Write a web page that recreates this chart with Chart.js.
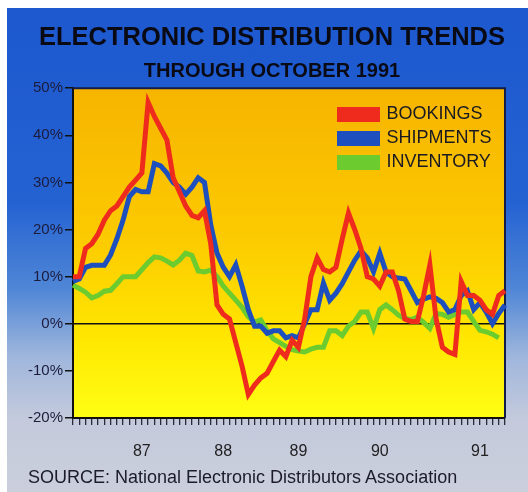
<!DOCTYPE html>
<html><head><meta charset="utf-8">
<script src="https://cdn.jsdelivr.net/npm/chart.js@4"></script>
<style>
html,body{margin:0;padding:0;background:#fff;}
#wrap{position:relative;width:528px;height:492px;background:#fff;overflow:hidden;}
#panel{position:absolute;left:7px;top:8px;right:0;bottom:0;background:linear-gradient(to bottom,#1d58cf 0%,#2462d2 40%,#4f86d6 58%,#9fb6dc 72%,#c4cadc 85%,#cbcfdc 100%);}
#c{position:absolute;left:0;top:0;}
#source{position:absolute;left:28px;top:467px;font:18px/20px "Liberation Sans",Arial,sans-serif;color:#1b1b2b;white-space:nowrap;}
</style></head>
<body><div id="wrap"><div id="panel"></div><canvas id="c" width="528" height="492"></canvas><div id="source">SOURCE: National Electronic Distributors Association</div></div>
<script>
const months = [
 'Jan 86','Feb 86','Mar 86','Apr 86','May 86','Jun 86','Jul 86','Aug 86','Sep 86','Oct 86','Nov 86','Dec 86',
 'Jan 87','Feb 87','Mar 87','Apr 87','May 87','Jun 87','Jul 87','Aug 87','Sep 87','Oct 87','Nov 87','Dec 87',
 'Jan 88','Feb 88','Mar 88','Apr 88','May 88','Jun 88','Jul 88','Aug 88','Sep 88','Oct 88','Nov 88','Dec 88',
 'Jan 89','Feb 89','Mar 89','Apr 89','May 89','Jun 89','Jul 89','Aug 89','Sep 89','Oct 89','Nov 89','Dec 89',
 'Jan 90','Feb 90','Mar 90','Apr 90','May 90','Jun 90','Jul 90','Aug 90','Sep 90','Oct 90','Nov 90','Dec 90',
 'Jan 91','Feb 91','Mar 91','Apr 91','May 91','Jun 91','Jul 91','Aug 91','Sep 91','Oct 91'];

const bookings = [10,10,16,17,19,22,24,25,27,29, 30.5,32,47,44,41.5,39,31,28,25,23,
 22.5,24,17,4,2,1,-4,-9,-15,-13, -11.5,-10.5,-8,-5.6,-7,-3.5,-5,1,10,14,
 11.5,11,12,18,23.5,20,16,10,9.5,8, 11,11,7,1,0.5,0.5,6,12.5,1,-5,
 -6,-6.5,9,6,6,5,3,2,6,7];

const shipments = [9,9.5,12,12.4,12.4,12.4,14.6,18,22,27, 28.5,28,28,34,33.5,32,30,29,27.5,29,
 31,30,21,15,12,10,12.5,8,3,-0.5, -0.5,-2,-1.5,-1.5,-3,-2.5,-3,0,3,3,
 8.6,5,6.5,8.5,11,13.5,15.5,14,11,15, 11,10,9.7,9.5,7,4.5,5.2,5.7,5.4,4.5,
 2.5,3,6,7,3,4.5,2.5,0,2.2,4];

const inventory = [8.2,7.5,6.7,5.5,6,6.9,7.1,8.5,10,10, 10,11.5,13,14.2,14,13.3,12.5,13.5,15,14.5,
 11.2,11,11.4,10,8,6.5,5,3.5,1.5,0.4, 0.8,-1.5,-3.2,-4,-4.8,-5.5,-5.8,-6,-5.4,-5,
 -5,-1.5,-1.5,-2.5,-0.5,0.5,2.5,2.5,-1,3, 4,3,1.8,1.1,0.9,1.4,0.3,-1,2.2,2,
 1.4,2,2.5,2.5,0.5,-1.4,-1.7,-2.2,-3,null];

const yearLabels = ['87','88','89','90','91'];
const yearLabelAt = ['Dec 86','Jan 88','Jan 89','Feb 90','Jun 91'];

const FONT = '"Liberation Sans", Arial, Helvetica, sans-serif';

const deco = {
  id: 'deco',
  beforeDraw(chart) {
    const {ctx, chartArea: a} = chart;
    const g = ctx.createLinearGradient(0, a.top, 0, a.bottom);
    g.addColorStop(0, '#f6b400');
    g.addColorStop(0.45, '#fcca00');
    g.addColorStop(0.75, '#ffe600');
    g.addColorStop(1, '#ffff14');
    ctx.save();
    ctx.fillStyle = g;
    ctx.fillRect(a.left, a.top, a.right - a.left, a.bottom - a.top);
    ctx.restore();
  },
  beforeDatasetsDraw(chart) {
    const {ctx, chartArea: a} = chart;
    ctx.save();
    ctx.strokeStyle = '#141c4a';
    ctx.lineWidth = 2;
    ctx.beginPath();
    ctx.moveTo(a.left, a.top);
    ctx.lineTo(a.right, a.top);
    ctx.lineTo(a.right, a.bottom);
    ctx.stroke();
    ctx.restore();
  },
  afterLayout(chart) {
    if (chart.legend) {
      chart.legend.left = 333.5;
      chart.legend.top = 99.5;
    }
  }
};

new Chart(document.getElementById('c'), {
  type: 'line',
  data: {
    labels: months,
    datasets: [
      {label: 'BOOKINGS', data: bookings, borderColor: '#ee2b1c', backgroundColor: '#ee2b1c'},
      {label: 'SHIPMENTS', data: shipments, borderColor: '#1d4fbf', backgroundColor: '#1d4fbf'},
      {label: 'INVENTORY', data: inventory, borderColor: '#6ccb2e', backgroundColor: '#6ccb2e'}
    ]
  },
  options: {
    responsive: false,
    animation: false,
    devicePixelRatio: 1,
    layout: {padding: {left: 39, right: 23, top: 0, bottom: 30}},
    elements: {
      line: {tension: 0, borderWidth: 5, borderCapStyle: 'butt', borderJoinStyle: 'miter'},
      point: {radius: 0, hoverRadius: 0}
    },
    plugins: {
      title: {
        display: true,
        text: 'ELECTRONIC DISTRIBUTION TRENDS',
        color: '#0a0a14',
        font: {family: FONT, size: 26, weight: 'bold'},
        padding: {top: 22, bottom: 0}
      },
      subtitle: {
        display: true,
        text: 'THROUGH OCTOBER 1991',
        color: '#0a0a14',
        font: {family: FONT, size: 20, weight: 'bold'},
        padding: {top: 6, bottom: 5}
      },
      legend: {
        position: 'chartArea',
        align: 'start',
        labels: {
          boxWidth: 38,
          boxHeight: 10,
          padding: 6,
          color: '#1a1a22',
          font: {family: FONT, size: 18}
        }
      },
      tooltip: {enabled: false}
    },
    scales: {
      x: {
        type: 'category',
        offset: false,
        afterFit(s) { s.height = 44; },
        border: {display: true, color: '#111', width: 2},
        grid: {display: true, drawOnChartArea: false, drawTicks: true, tickLength: 7, tickColor: '#2a2a3a', lineWidth: 1.3},
        ticks: {
          autoSkip: false, maxRotation: 0, minRotation: 0, padding: 17,
          color: '#222', font: {family: FONT, size: 16},
          callback(val) {
            const k = yearLabelAt.indexOf(this.getLabelForValue(val));
            return k >= 0 ? yearLabels[k] : '';
          }
        }
      },
      y: {
        min: -20, max: 50,
        afterFit(s) { s.width = 34; s._computeLabelArea = () => undefined; },
        border: {display: true, color: '#111', width: 2},
        grid: {
          drawOnChartArea: true,
          color: (c) => (c.tick && c.tick.value === 0) ? '#111' : 'rgba(0,0,0,0)',
          tickColor: '#111',
          lineWidth: 1.5,
          tickLength: 8
        },
        ticks: {
          stepSize: 10, padding: 2,
          color: '#1c1c3c', font: {family: FONT, size: 15},
          callback: (v) => v + '%'
        }
      }
    }
  },
  plugins: [deco]
});
</script>
</body></html>
